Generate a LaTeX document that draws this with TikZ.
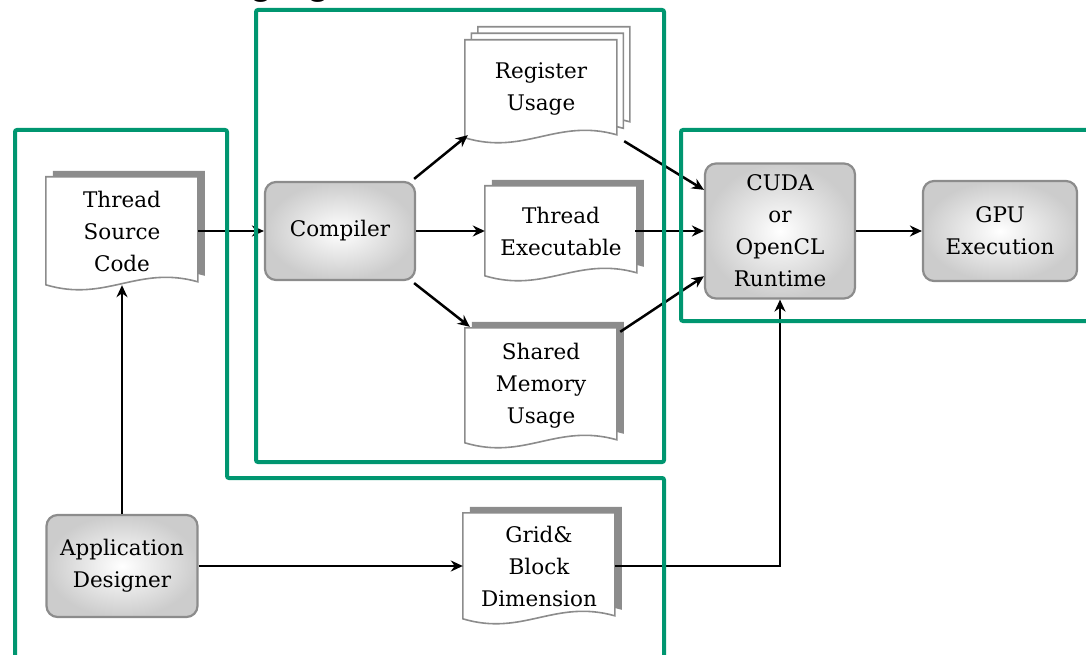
\documentclass[tikz,border=0pt]{standalone}
\usepackage{fontspec}
\newfontfamily\titlefont{Liberation Sans}
\newfontfamily\boxfont{DejaVu Serif}
\usetikzlibrary{arrows.meta,calc}
\pgfdeclarelayer{bg}
\pgfsetlayers{bg,main}
\definecolor{frame}{RGB}{0,150,112}
\definecolor{edgegray}{RGB}{140,140,140}
\definecolor{shadowgray}{RGB}{140,140,140}
\definecolor{fillgray}{RGB}{204,204,204}
\tikzset{
  lbl/.style={font=\boxfont\fontsize{21.5}{32}\selectfont, align=center},
  procbox/.style={lbl, draw=edgegray, line width=2.2pt, rounded corners=11pt,
     shading=radial, inner color=white, outer color=fillgray, inner sep=0pt},
  docnode/.style={lbl, minimum width=152pt, inner sep=0pt},
  arr/.style={line width=2.5pt, -{Stealth[length=12pt,width=11pt]}},
  greenframe/.style={draw=frame, line width=4pt, rounded corners=2pt},
  docpath/.style={insert path={(0,0) -- (152,0) -- (152,#1-3) .. controls (92,#1-20) and (60,#1+18) .. (0,#1) -- cycle}},
}
\begin{document}
\begin{tikzpicture}[x=1pt,y=-1pt]
\useasboundingbox (0,0) rectangle (1086,655);
\begin{scope}
\clip (0,0) rectangle (1086,655);
\node[font=\titlefont\fontsize{43}{43}\selectfont, anchor=base west, inner sep=0pt] (title) at (249,-6.5) {ging};
\end{scope}

% documents
\node[docnode, minimum height=108pt] (tsc) at (122,231) {Thread\\Source\\Code};
\node[docnode, minimum height=98pt] (reg) at (541,89) {Register\\Usage};
\node[docnode, minimum height=90pt] (exe) at (561,231) {Thread\\Executable};
\node[docnode, minimum height=115pt] (shm) at (541,385.5) {Shared\\Memory\\Usage};
\node[docnode, minimum height=106pt] (grid) at (539,566) {Grid\&\\Block\\Dimension};

% process boxes
\node[procbox, minimum width=150pt, minimum height=98pt] (comp) at (340,231) {Compiler};
\node[procbox, minimum width=150pt, minimum height=135pt] (cuda) at (780,231) {CUDA\\or\\OpenCL\\Runtime};
\node[procbox, minimum width=154pt, minimum height=100pt] (gpu) at (1000,231) {GPU\\Execution};
\node[procbox, minimum width=151pt, minimum height=102pt] (app) at (122,566) {Application\\Designer};

\begin{pgfonlayer}{bg}
  \foreach \n/\h in {tsc/108, exe/90, shm/115, grid/106}{
    \begin{scope}[shift={(\n.north west)}]
      \fill[shadowgray, shift={(7,-6)}, docpath=\h];
      \draw[edgegray, line width=1.6pt, fill=white, docpath=\h];
    \end{scope}
  }
  \begin{scope}[shift={(reg.north west)}]
    \draw[edgegray, line width=1.6pt, fill=white, shift={(13,-13)}, docpath=98];
    \draw[edgegray, line width=1.6pt, fill=white, shift={(6.5,-6.5)}, docpath=98];
    \draw[edgegray, line width=1.6pt, fill=white, docpath=98];
  \end{scope}
\end{pgfonlayer}

% connectors
\draw[arr] (tsc.east) -- (comp.west);
\draw[arr] ([shift={(-2,-2)}]comp.north east) -- ([shift={(3,-3)}]reg.south west);
\draw[arr] (comp.east) -- (exe.west);
\draw[arr] ([shift={(-2,2)}]comp.south east) -- ([shift={(5,-1)}]shm.north west);
\draw[arr] ([shift={(7,3)}]reg.south east) -- ($(cuda.north west)!0.2!(cuda.south west)$);
\draw[arr] ([xshift=-2pt]exe.east) -- (exe.east -| cuda.west);
\draw[arr] ([shift={(3,4)}]shm.north east) -- ($(cuda.north west)!0.83!(cuda.south west)$);
\draw[arr] (cuda.east) -- (gpu.west);
\draw[arr] (app.north) -- (tsc.south);
\draw[arr] (app.east) -- (grid.west);
\draw[arr] (grid.east) -| (cuda.south);

% green frames
\draw[greenframe] (15,662) -- (15,130) -- (227,130) -- (227,478) -- (664,478) -- (664,662);
\draw[greenframe] (256,10) rectangle (664,462);
\draw[greenframe] (1092,130) -- (681,130) -- (681,321) -- (1092,321);
\end{tikzpicture}
\end{document}
